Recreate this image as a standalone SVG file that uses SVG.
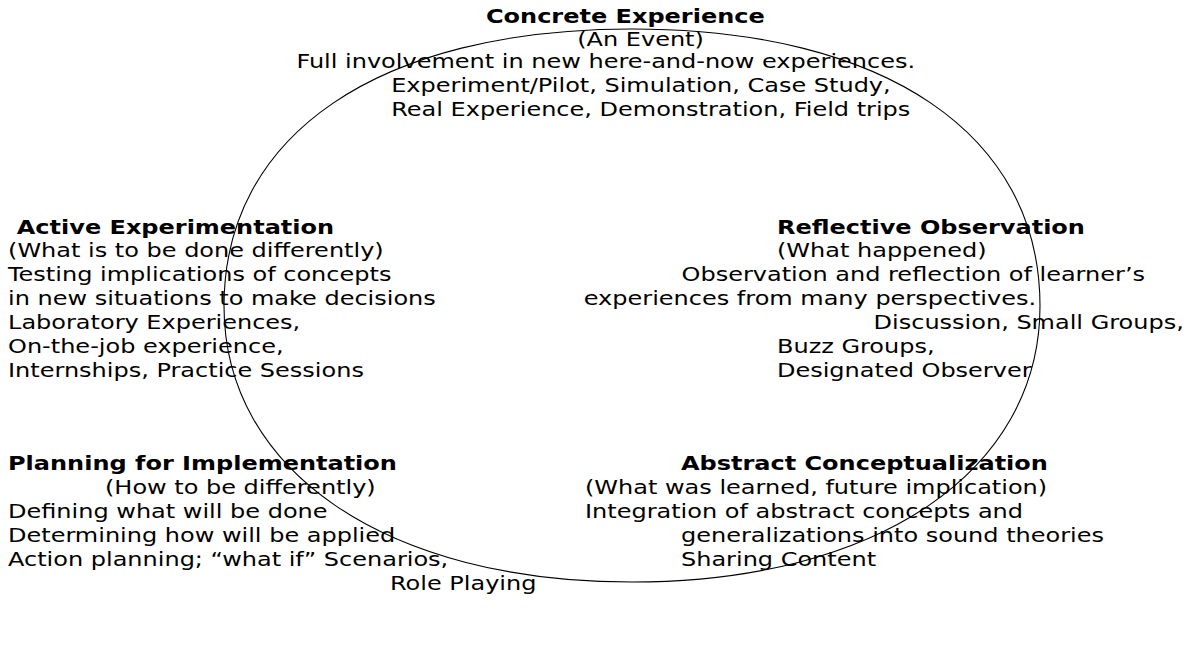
<svg xmlns="http://www.w3.org/2000/svg" width="1188" height="649" viewBox="0 0 1188 649">
  <style>
    text { font-family: "DejaVu Sans", Verdana, sans-serif; font-size: 20px; fill: #000; }
    .title { font-weight: bold; }
    .cycle { fill: none; stroke: #000; stroke-width: 1.1; }
  </style>
  <rect width="1188" height="649" fill="#fff"/>

  <!-- learning cycle outline: a slightly squared oval -->
  <g id="connectors">
    <path class="cycle" d="M 224 306 C 224 134.3 379 29 632 29 C 885 29 1040 134.3 1040 306 C 1040 471.6 876.8 582 632 582 C 387.2 582 224 471.6 224 306 Z"/>
  </g>

  <!-- all labels use a slightly widened face: x values are in the scaled frame -->
  <g transform="scale(1.2 1)">
    <g id="concrete-experience">
      <text class="title" x="405" y="23.5">Concrete Experience</text>
      <text x="481" y="46">(An Event)</text>
      <text x="247" y="68">Full involvement in new here-and-now experiences.</text>
      <text x="326" y="92">Experiment/Pilot, Simulation, Case Study,</text>
      <text x="326" y="116">Real Experience, Demonstration, Field trips</text>
    </g>

    <g id="active-experimentation">
      <text class="title" x="14" y="234">Active Experimentation</text>
      <text x="6.7" y="257">(What is to be done differently)</text>
      <text x="6.7" y="281">Testing implications of concepts</text>
      <text x="6.7" y="305">in new situations to make decisions</text>
      <text x="6.7" y="329">Laboratory Experiences,</text>
      <text x="6.7" y="353">On-the-job experience,</text>
      <text x="6.7" y="377">Internships, Practice Sessions</text>
    </g>

    <g id="reflective-observation">
      <text class="title" x="647.5" y="234">Reflective Observation</text>
      <text x="647.5" y="257">(What happened)</text>
      <text x="568" y="281">Observation and reflection of learner’s</text>
      <text x="486.5" y="305">experiences from many perspectives.</text>
      <text x="728" y="329">Discussion, Small Groups,</text>
      <text x="647.5" y="353">Buzz Groups,</text>
      <text x="647.5" y="377">Designated Observer</text>
    </g>

    <g id="planning-for-implementation">
      <text class="title" x="6.7" y="470">Planning for Implementation</text>
      <text x="87.5" y="494">(How to be differently)</text>
      <text x="6.7" y="518">Defining what will be done</text>
      <text x="6.7" y="542">Determining how will be applied</text>
      <text x="6.7" y="566">Action planning; “what if” Scenarios,</text>
      <text x="325" y="590">Role Playing</text>
    </g>

    <g id="abstract-conceptualization">
      <text class="title" x="567.5" y="470">Abstract Conceptualization</text>
      <text x="487.5" y="494">(What was learned, future implication)</text>
      <text x="487.5" y="518">Integration of abstract concepts and</text>
      <text x="567.5" y="542">generalizations into sound theories</text>
      <text x="567.5" y="566">Sharing Content</text>
    </g>
  </g>
</svg>
